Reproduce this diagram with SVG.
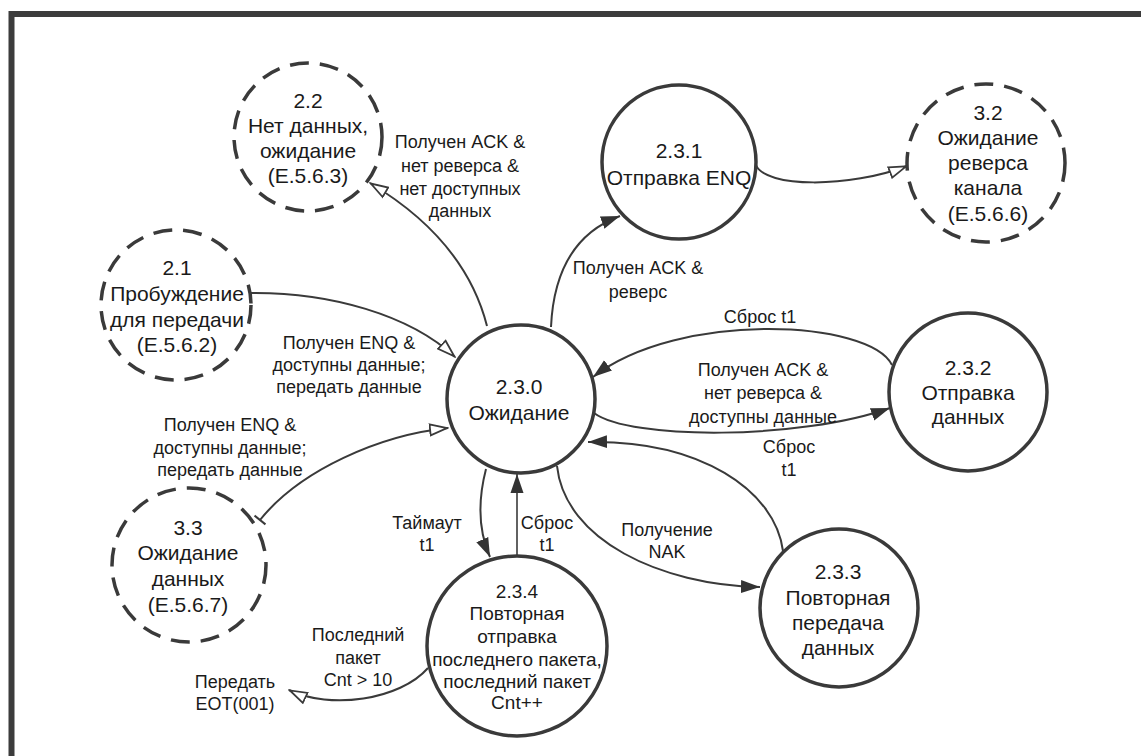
<svg xmlns="http://www.w3.org/2000/svg" width="1141" height="756" viewBox="0 0 1141 756">
<defs>
<style>
.frame{fill:none;stroke:#3c3c3c;stroke-width:6}
.st{fill:#fff;stroke:#3a3a3a;stroke-width:3.5}
.ds{fill:#fff;stroke:#3a3a3a;stroke-width:3.5;stroke-dasharray:19 11}
.nt{font-family:"Liberation Sans",Arial,sans-serif;font-size:21px;fill:#1a1a1a;text-anchor:middle}
.nts{font-family:"Liberation Sans",Arial,sans-serif;font-size:19px;fill:#1a1a1a;text-anchor:middle}
.lb{font-family:"Liberation Sans",Arial,sans-serif;font-size:18px;fill:#1a1a1a;text-anchor:middle}
.e{fill:none;stroke:#3a3a3a;stroke-width:2}
.ef{marker-end:url(#fa)}
.eo{marker-end:url(#oa)}
</style>
<marker id="fa" markerWidth="20" markerHeight="14" refX="19" refY="7" orient="auto" markerUnits="userSpaceOnUse"><path d="M0,0.5 L19,7 L0,13.5 Z" fill="#333"/></marker>
<marker id="oa" markerWidth="20" markerHeight="14" refX="19" refY="7" orient="auto" markerUnits="userSpaceOnUse"><path d="M1,1.5 L18,7 L1,12.5 Z" fill="#fff" stroke="#3a3a3a" stroke-width="1.8"/></marker>
<marker id="tick" markerWidth="4" markerHeight="16" refX="2" refY="8" orient="auto" markerUnits="userSpaceOnUse"><path d="M2,1 V15" stroke="#3a3a3a" stroke-width="2"/></marker>
</defs>
<rect width="1141" height="756" fill="#fff"/>
<path class="frame" d="M11.5,762 V14 H1150"/>

<g id="connectors">
<path class="e eo" d="M487,326 Q465,240 370,183"/>
<path class="e ef" d="M551,327 Q555,240 620,216"/>
<path class="e eo" d="M756,165 C765,188 850,188 907,166"/>
<path class="e eo" d="M250,293 C330,292 410,315 455,357"/>
<path class="e eo" d="M260,520 C300,470 380,435 448,428" marker-start="url(#tick)"/>
<path class="e ef" d="M892,365 C870,320 680,310 593,377"/>
<path class="e ef" d="M594,413 C630,440 800,440 890,408"/>
<path class="e ef" d="M783,551 C775,490 700,440 588,442"/>
<path class="e ef" d="M557,466 C565,540 660,585 760,587"/>
<path class="e ef" d="M486,469 C478,500 478,530 490,557"/>
<path class="e ef" d="M517,557 V474" style="stroke-width:1.6"/>
<path class="e eo" d="M428,668 C400,700 330,710 289,690"/>
</g>

<g id="n22"><circle class="ds" cx="308" cy="137" r="74"/>
<text class="nt" x="308" y="108">2.2</text><text class="nt" x="308" y="133">Нет данных,</text><text class="nt" x="308" y="158">ожидание</text><text class="nt" x="308" y="183">(E.5.6.3)</text></g>

<g id="n21"><circle class="ds" cx="176" cy="305" r="75"/>
<text class="nt" x="177" y="275">2.1</text><text class="nt" x="177" y="301">Пробуждение</text><text class="nt" x="177" y="327">для передачи</text><text class="nt" x="177" y="352">(E.5.6.2)</text></g>

<g id="n33"><circle class="ds" cx="189" cy="565" r="77"/>
<text class="nt" x="188" y="535">3.3</text><text class="nt" x="188" y="560">Ожидание</text><text class="nt" x="188" y="586">данных</text><text class="nt" x="188" y="612">(E.5.6.7)</text></g>

<g id="n32"><circle class="ds" cx="986" cy="163" r="79"/>
<text class="nt" x="988" y="120">3.2</text><text class="nt" x="988" y="145">Ожидание</text><text class="nt" x="988" y="170">реверса</text><text class="nt" x="988" y="195">канала</text><text class="nt" x="988" y="221">(E.5.6.6)</text></g>

<g id="n230"><circle class="st" cx="521" cy="399" r="74"/>
<text class="nt" x="519" y="394">2.3.0</text><text class="nt" x="519" y="420">Ожидание</text></g>

<g id="n231"><circle class="st" cx="679" cy="162" r="77"/>
<text class="nt" x="679" y="158">2.3.1</text><text class="nt" x="679" y="185">Отправка ENQ</text></g>

<g id="n232"><circle class="st" cx="968" cy="392" r="79"/>
<text class="nt" x="968" y="375">2.3.2</text><text class="nt" x="968" y="400">Отправка</text><text class="nt" x="968" y="424">данных</text></g>

<g id="n233"><circle class="st" cx="839" cy="608" r="79"/>
<text class="nt" x="838" y="579">2.3.3</text><text class="nt" x="838" y="605">Повторная</text><text class="nt" x="838" y="630">передача</text><text class="nt" x="838" y="655">данных</text></g>

<g id="n234"><circle class="st" cx="517" cy="646" r="90"/>
<text class="nts" x="517" y="598">2.3.4</text><text class="nts" x="517" y="620">Повторная</text><text class="nts" x="517" y="643">отправка</text><text class="nts" x="517" y="666">последнего пакета,</text><text class="nts" x="517" y="688">последний пакет</text><text class="nts" x="517" y="709">Cnt++</text></g>

<g id="labels">
<text class="lb" x="460" y="148">Получен ACK &amp;</text><text class="lb" x="460" y="172">нет реверса &amp;</text><text class="lb" x="460" y="195">нет доступных</text><text class="lb" x="460" y="217">данных</text>
<text class="lb" x="638" y="274">Получен ACK &amp;</text><text class="lb" x="638" y="298">реверс</text>
<text class="lb" x="760" y="323">Сброс t1</text>
<text class="lb" x="763" y="376">Получен ACK &amp;</text><text class="lb" x="763" y="399">нет реверса &amp;</text><text class="lb" x="763" y="423">доступны данные</text>
<text class="lb" x="789" y="453">Сброс</text><text class="lb" x="789" y="476">t1</text>
<text class="lb" x="349" y="349">Получен ENQ &amp;</text><text class="lb" x="349" y="371">доступны данные;</text><text class="lb" x="349" y="393">передать данные</text>
<text class="lb" x="230" y="431">Получен ENQ &amp;</text><text class="lb" x="230" y="454">доступны данные;</text><text class="lb" x="230" y="476">передать данные</text>
<text class="lb" x="427" y="529">Таймаут</text><text class="lb" x="427" y="551">t1</text>
<text class="lb" x="547" y="529">Сброс</text><text class="lb" x="547" y="551">t1</text>
<text class="lb" x="667" y="536">Получение</text><text class="lb" x="667" y="558">NAK</text>
<text class="lb" x="358" y="641">Последний</text><text class="lb" x="358" y="664">пакет</text><text class="lb" x="358" y="686">Cnt &gt; 10</text>
<text class="lb" x="235" y="688">Передать</text><text class="lb" x="235" y="710">EOT(001)</text>
</g>
</svg>
